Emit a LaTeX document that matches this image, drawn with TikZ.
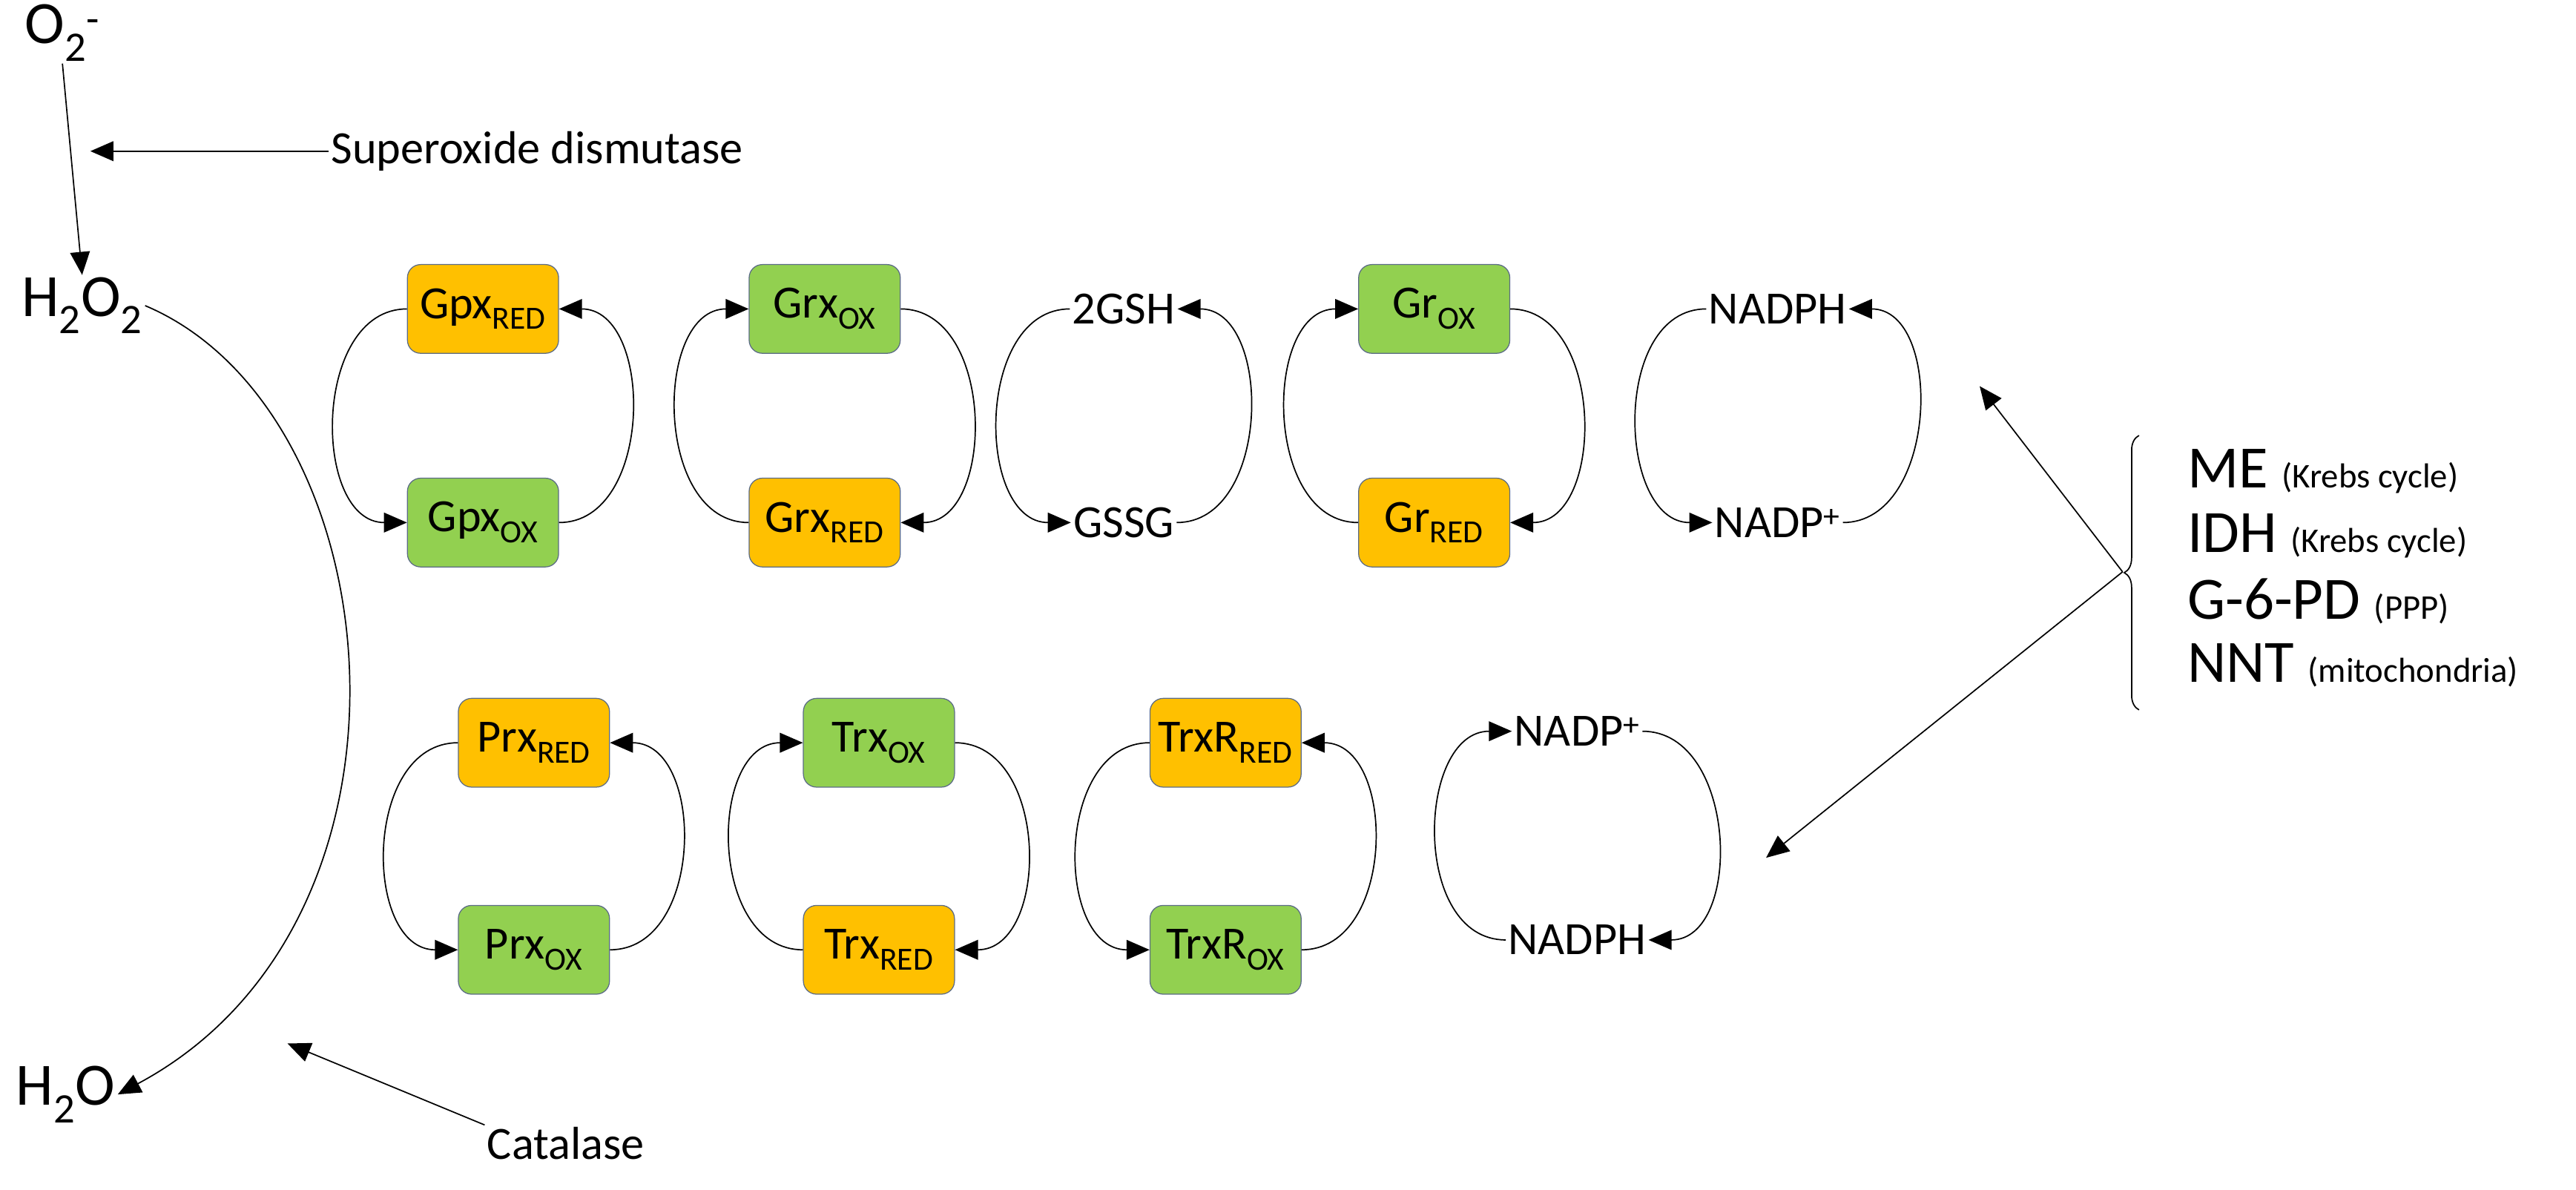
\documentclass[tikz,border=0pt]{standalone}
\usepackage{fontspec}
\setmainfont{Carlito}
\usetikzlibrary{arrows.meta,decorations.pathreplacing}
\definecolor{orng}{HTML}{FFC000}
\definecolor{grn}{HTML}{92D050}
\definecolor{bord}{HTML}{5B6B86}
\begin{document}
\begin{tikzpicture}[x=0.5mm,y=-0.5mm,
  box/.style={draw=bord,line width=0.8pt,rounded corners=4mm,minimum width=46mm,minimum height=27mm,inner sep=0pt,font=\fontsize{40}{44}\selectfont},
  ox/.style={box,fill=grn}, rd/.style={box,fill=orng},
  lbl/.style={inner sep=2pt,font=\fontsize{40}{44}\selectfont},
  big/.style={inner sep=2pt,font=\fontsize{52}{58}\selectfont},
  con/.style={line width=1.1pt,-{Triangle[length=7mm,width=6mm]}},
  ln/.style={line width=1.1pt}]
\useasboundingbox (0,0) rectangle (1568,724);
% left part
\node[big] (o2) at (38,20) {O\textsubscript{2}\textsuperscript{-}};
\node[big] (h2o2) at (50,186) {H\textsubscript{2}O\textsubscript{2}};
\node[big] (h2o) at (40,666) {H\textsubscript{2}O};
\node[lbl,anchor=west] (sod) at (200,92) {Superoxide dismutase};
\node[lbl,anchor=west] (cat) at (295,696) {Catalase};
\coordinate (sodend) at (55,92);
\coordinate (catend) at (175,635);
\draw[con] (o2.south) -- (h2o2.north);
\draw[con] (sod.west) -- (sodend);
\draw[con] (cat.north west) -- (catend);
\draw[con] (h2o2.east) .. controls (240,250) and (270,560) .. (h2o.east);
% top row
\node[rd] (gpxr) at (294,188) {Gpx\textsubscript{RED}};
\node[ox] (gpxo) at (294,318) {Gpx\textsubscript{OX}};
\node[ox] (grxo) at (502,188) {Grx\textsubscript{OX}};
\node[rd] (grxr) at (502,318) {Grx\textsubscript{RED}};
\node[lbl] (gsh) at (684,188) {2GSH};
\node[lbl] (gssg) at (684,318) {GSSG};
\node[ox] (gro) at (873,188) {Gr\textsubscript{OX}};
\node[rd] (grr) at (873,318) {Gr\textsubscript{RED}};
\node[lbl] (nadph1) at (1082,188) {NADPH};
\node[lbl] (nadp1) at (1082,318) {NADP\textsuperscript{+}};
% bottom row
\node[rd] (prxr) at (325,452) {Prx\textsubscript{RED}};
\node[ox] (prxo) at (325,578) {Prx\textsubscript{OX}};
\node[ox] (trxo) at (535,452) {Trx\textsubscript{OX}};
\node[rd] (trxr) at (535,578) {Trx\textsubscript{RED}};
\node[rd] (trxrr) at (746,452) {TrxR\textsubscript{RED}};
\node[ox] (trxro) at (746,578) {TrxR\textsubscript{OX}};
\node[lbl] (nadp2) at (960,445) {NADP\textsuperscript{+}};
\node[lbl] (nadph2) at (960,572) {NADPH};
% cycles
\def\cw#1#2{%
 \draw[con] (#1.west) .. controls +(-58,0) and +(-58,0) .. (#2.west);
 \draw[con] (#2.east) .. controls +(58,0) and +(58,0) .. (#1.east);}
\def\ccw#1#2{%
 \draw[con] (#2.west) .. controls +(-58,0) and +(-58,0) .. (#1.west);
 \draw[con] (#1.east) .. controls +(58,0) and +(58,0) .. (#2.east);}
\cw{gpxr}{gpxo}
\ccw{grxo}{grxr}
\cw{gsh}{gssg}
\ccw{gro}{grr}
\cw{nadph1}{nadp1}
\cw{prxr}{prxo}
\ccw{trxo}{trxr}
\cw{trxrr}{trxro}
\ccw{nadp2}{nadph2}
% brace and list
\coordinate (btop) at (1302,265);
\coordinate (bbot) at (1302,432);
\draw[ln,decorate,decoration={brace,amplitude=4.5mm}] (bbot) -- (btop);
\coordinate (tip) at (1292,348);
\node[big,anchor=west] (me) at (1330,287) {ME {\fontsize{30}{34}\selectfont(Krebs cycle)}};
\node[big,anchor=west] (idh) at (1330,326) {IDH {\fontsize{30}{34}\selectfont(Krebs cycle)}};
\node[big,anchor=west] (g6pd) at (1330,366) {G-6-PD {\fontsize{30}{34}\selectfont(PPP)}};
\node[big,anchor=west] (nnt) at (1330,405) {NNT {\fontsize{30}{34}\selectfont(mitochondria)}};
\coordinate (a1) at (1205,235);
\coordinate (a2) at (1075,522);
\draw[con] (tip) -- (a1);
\draw[con] (tip) -- (a2);
\end{tikzpicture}
\end{document}
